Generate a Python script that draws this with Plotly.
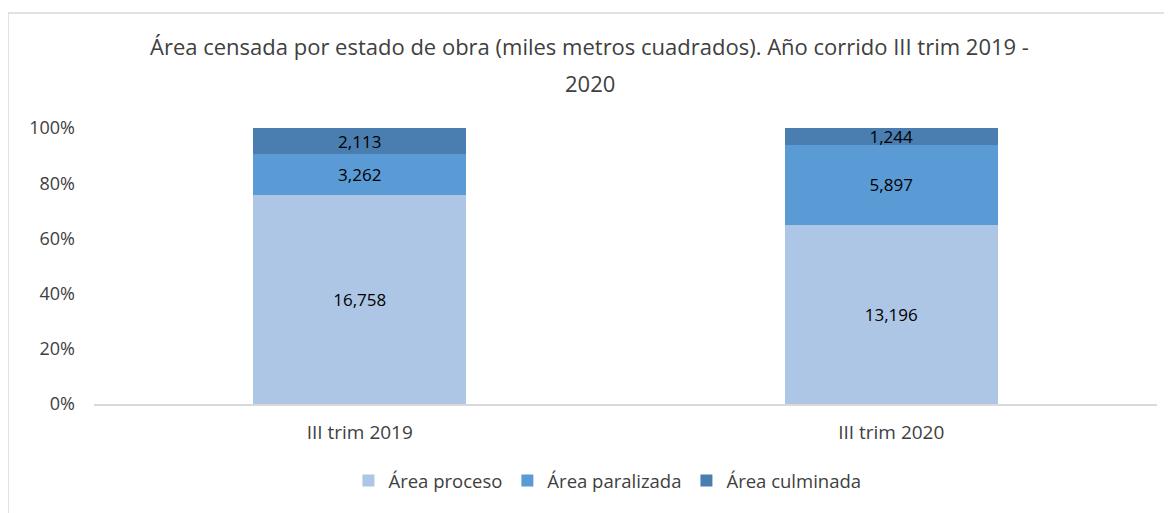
import plotly.graph_objects as go

categories = ["III trim 2019", "III trim 2020"]
series_names = ["Área proceso", "Área paralizada", "Área culminada"]
area_proceso = [16758, 13196]
area_paralizada = [3262, 5897]
area_culminada = [2113, 1244]
y_ticks = [0, 20, 40, 60, 80, 100]
y_tick_labels = ["0%", "20%", "40%", "60%", "80%", "100%"]
title_lines = ["Área censada por estado de obra (miles metros cuadrados). Año corrido III trim 2019 -", "2020"]

colors = ["#ADC6E6", "#5B9BD5", "#4A7EB0"]
series = [area_proceso, area_paralizada, area_culminada]

FONT = "Open Sans"
TXT = "#404040"

fig = go.Figure()
for name, vals, col in zip(series_names, series, colors):
    fig.add_trace(go.Bar(
        x=categories, y=vals, name=name,
        marker=dict(color=col, line=dict(width=0)),
        text=[f"{v:,}" for v in vals],
        textposition="inside", insidetextanchor="middle",
        constraintext="none",
        textfont=dict(family=FONT, size=17, color="#000000"),
        hoverinfo="skip",
    ))

# page has an 8px body margin; figure sized to fit the window
W, H = 1164, 505
L, R, T, B = 86, 15, 120, 109
pw, ph = W - L - R, H - T - B

fig.update_layout(
    width=W, height=H,
    barmode="stack", barnorm="percent", bargap=0.6,
    margin=dict(l=L, r=R, t=T, b=B),
    paper_bgcolor="white", plot_bgcolor="white",
    font=dict(family=FONT, size=17, color=TXT),
    uniformtext=dict(mode="show", minsize=17),
    showlegend=True,
    legend=dict(
        orientation="h", x=0.483, xanchor="center",
        y=-0.279, yanchor="middle",
        font=dict(family=FONT, size=18.5, color=TXT),
        traceorder="normal", itemwidth=30,
    ),
    xaxis=dict(
        showline=True, linecolor="#D9D9D9", linewidth=1.5,
        ticks="", showgrid=False, tickfont=dict(size=19, color=TXT),
        ticklabelstandoff=10,
    ),
    yaxis=dict(
        range=[0, 100], tickvals=y_ticks, ticktext=y_tick_labels,
        showgrid=False, showline=False, ticks="", zeroline=False,
        tickfont=dict(size=18, color=TXT),
        ticklabelstandoff=18,
    ),
)

for txt, yp in zip(title_lines, [1.297, 1.163]):
    fig.add_annotation(
        text=txt, xref="paper", yref="paper", x=0.4666, y=yp,
        xanchor="center", yanchor="middle", showarrow=False,
        font=dict(family=FONT, size=22, color=TXT),
    )

# chart area border
fig.add_shape(
    type="rect", xref="paper", yref="paper",
    x0=(0 - L) / pw, x1=(W + 20 - L) / pw,
    y0=-(B + 20) / ph, y1=(H - B - 5) / ph,
    line=dict(color="#D9D9D9", width=1.5), fillcolor="rgba(0,0,0,0)",
    layer="below",
)

fig.write_html("out.html")
